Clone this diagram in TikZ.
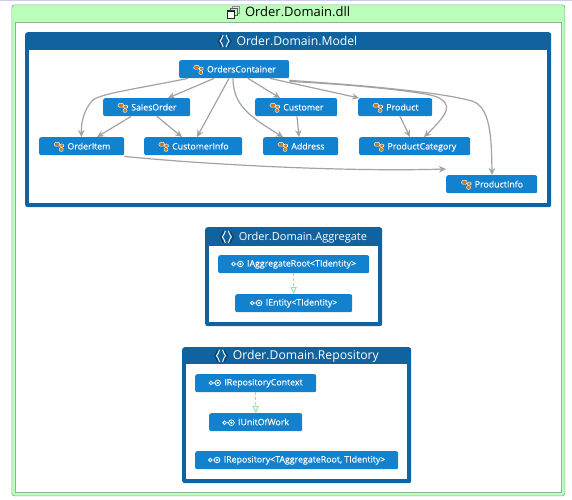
\documentclass[tikz,border=0pt]{standalone}
\usepackage{fontspec}
\setmainfont{Open Sans}
\newfontfamily\typefont[FakeBold=0.25]{Open Sans}
\usetikzlibrary{arrows.meta}
\definecolor{dllgreen}{HTML}{BBFFBB}
\definecolor{dlledge}{HTML}{8DB39B}
\definecolor{nsblue}{HTML}{10639F}
\definecolor{typeblue}{HTML}{1382CE}
\definecolor{linkgrey}{HTML}{A3A3A3}
\definecolor{iconorange}{HTML}{C47A1E}
\definecolor{implgreen}{HTML}{8FE6A0}
\tikzset{
  frame/.style={rounded corners=2.5pt, inner sep=0pt, anchor=north west},
  nsframe/.style={frame, fill=nsblue},
  nsbody/.style={inner sep=0pt, anchor=north west, fill=white},
  nstitle/.style={text=white, font=\fontsize{12.2}{14}\selectfont, inner sep=0pt},
  typebox/.style={fill=typeblue, text=white, rounded corners=2pt, inner sep=0pt, minimum height=18pt,
    anchor=north west, font=\typefont\fontsize{8.8}{11}\selectfont},
  dep/.style={draw=linkgrey, line width=1.2pt, -{Stealth[length=7pt,width=6.5pt]}},
  impl/.style={draw=implgreen, line width=0.9pt, densely dashed, -{Triangle[open,length=7pt,width=6.5pt,fill=white,line width=0.9pt,sep=0pt]}}
}
% small icons, set inline with the text
\newcommand{\clsicon}{\tikz[baseline=0.5pt,x=1pt,y=-1pt]{
  \fill[iconorange, draw=white, line width=0.4pt] (0,-5.5) -- (4,-9) -- (7.5,-5.5) -- (3.5,-2.5) -- cycle;
  \fill[iconorange, draw=white, line width=0.4pt] (6.5,-6) rectangle (10.5,-2.5);
  \fill[iconorange, draw=white, line width=0.4pt] (6,-2.5) rectangle (10,1.5);
}\hspace{3.5pt}}
\newcommand{\ifcicon}{\tikz[baseline=0.5pt,x=1pt,y=-1pt]{
  \draw[white, line width=0.8pt] (2,-3) circle (1.8pt) (3.8,-3) -- (6,-3) (8.8,-3) circle (2.8pt);
  \fill[white] (8.8,-3) circle (1.2pt);
}\hspace{3.5pt}}
\newcommand{\nsicon}{\tikz[baseline=0.5pt,x=1pt,y=-1pt]{
  \draw[black!45!nsblue, line width=0.8pt] (3,-10.5) .. controls (0.5,-8) and (3,-6) .. (0,-4.5) .. controls (3,-3) and (0.5,-1) .. (3,1.5);
  \draw[white, line width=0.9pt] (5,-10.5) .. controls (2.5,-8) and (5,-6) .. (2,-4.5) .. controls (5,-3) and (2.5,-1) .. (5,1.5);
  \draw[white, line width=0.9pt] (8,-10.5) .. controls (10.5,-8) and (8,-6) .. (11,-4.5) .. controls (8,-3) and (10.5,-1) .. (8,1.5);
  \draw[black!45!nsblue, line width=0.8pt] (10,-10.5) .. controls (12.5,-8) and (10,-6) .. (13,-4.5) .. controls (10,-3) and (12.5,-1) .. (10,1.5);
}\hspace{5pt}}
\newcommand{\dllicon}{\tikz[baseline=0.5pt,x=1pt,y=-1pt]{
  \draw[black!45, line width=1pt] (6,-10.5) rectangle (13,-3);
  \draw[black!65, fill=dllgreen, line width=1pt] (3.5,-8.5) rectangle (10.5,-1);
  \draw[black!85, fill=white, line width=1.3pt] (1,-6) rectangle (8,1.5);
}\hspace{5pt}}
\begin{document}
\begin{tikzpicture}[x=1pt,y=-1pt]
\useasboundingbox (0,0) rectangle (572,499);
\fill[white] (0,0) rectangle (572,499);
\fill[black!40!blue!20!white] (0,0) rectangle (572,0.8);
% dll frame
\node[frame, fill=dllgreen, draw=dlledge, line width=0.7pt, minimum width=553pt, minimum height=491pt] (dllFrame) at (11.5,4.5) {};
\node[nsbody, draw=dlledge, line width=0.7pt, minimum width=546pt, minimum height=470pt] (dllBody) at (15,22) {};
\node[inner sep=0pt, font=\fontsize{13}{15}\selectfont] (dllTitle) at (288.5,12.5) {\dllicon Order.Domain.dll};
% model namespace
\node[nsframe, minimum width=526pt, minimum height=175pt] (modelFrame) at (25,32) {};
\node[nsbody, minimum width=518pt, minimum height=153pt] (modelBody) at (29,50) {};
\node[nstitle] (modelTitle) at (287.5,41) {\nsicon Order.Domain.Model};
\node[typebox, minimum width=110pt] (ordersContainer) at (179,60) {\clsicon OrdersContainer};
\node[typebox, minimum width=87pt] (salesOrder) at (103,98) {\clsicon SalesOrder};
\node[typebox, minimum width=82pt] (customer) at (255,98) {\clsicon Customer};
\node[typebox, minimum width=74pt] (product) at (358,98) {\clsicon Product};
\node[typebox, minimum width=85pt] (orderItem) at (39,137) {\clsicon OrderItem};
\node[typebox, minimum width=98pt] (customerInfo) at (144,137) {\clsicon CustomerInfo};
\node[typebox, minimum width=75pt] (address) at (263,137) {\clsicon Address};
\node[typebox, minimum width=111pt] (productCategory) at (359,137) {\clsicon ProductCategory};
\node[typebox, minimum width=91pt] (productInfo) at (446,175) {\clsicon ProductInfo};
% associations
\draw[dep] ([xshift=9pt]ordersContainer.south west) .. controls (130,90) and (98,94) .. (92,101) .. controls (84,110) and (81,122) .. ([xshift=42.5pt]orderItem.north west);
\draw[dep] ([xshift=35pt]ordersContainer.south west) -- ([xshift=65pt]salesOrder.north west);
\draw[dep] ([xshift=50pt]ordersContainer.south west) -- ([xshift=53pt]customerInfo.north west);
\draw[dep] ([xshift=54pt]ordersContainer.south west) .. controls (233,105) and (250,117) .. ([xshift=20pt]address.north west);
\draw[dep] ([xshift=69pt]ordersContainer.south west) -- ([xshift=25pt]customer.north west);
\draw[dep] ([xshift=91pt]ordersContainer.south west) -- ([xshift=1pt]product.north west);
\draw[dep] ([yshift=-3pt]ordersContainer.south east) .. controls (360,85) and (425,92) .. (437,97) .. controls (452,104) and (450,112) .. ([xshift=65pt]productCategory.north west);
\draw[dep] ([yshift=-2pt]ordersContainer.south east) .. controls (360,85) and (440,92) .. (472,101) .. controls (490,107) and (491.5,135) .. ([xshift=46pt]productInfo.north west);
\draw[dep] ([xshift=28pt]salesOrder.south west) -- ([xshift=58pt]orderItem.north west);
\draw[dep] ([xshift=54pt]salesOrder.south west) -- ([xshift=38pt]customerInfo.north west);
\draw[dep] ([xshift=42pt]customer.south west) -- ([xshift=36pt]address.north west);
\draw[dep] ([xshift=42pt]product.south west) -- ([xshift=51pt]productCategory.north west);
\draw[dep] ([yshift=-1pt]orderItem.south east) .. controls (200,164) and (340,172) .. ([yshift=6pt]productInfo.north west);
% aggregate namespace
\node[nsframe, minimum width=177pt, minimum height=99pt] (aggregateFrame) at (205,227) {};
\node[nsbody, minimum width=169pt, minimum height=76pt] (aggregateBody) at (209,246) {};
\node[nstitle, font=\fontsize{11}{13}\selectfont] (aggregateTitle) at (293.5,237) {\nsicon Order.Domain.Aggregate};
\node[typebox, minimum width=151pt] (aggregateRoot) at (218,255) {\ifcicon IAggregateRoot<TIdentity>};
\node[typebox, minimum width=117pt] (entity) at (235,294) {\ifcicon IEntity<TIdentity>};
\draw[impl] (aggregateRoot.south) -- (aggregateRoot.south |- entity.north);
% repository namespace
\node[nsframe, minimum width=229pt, minimum height=136pt] (repositoryFrame) at (182,347) {};
\node[nsbody, minimum width=221pt, minimum height=115pt] (repositoryBody) at (186,364) {};
\node[nstitle] (repositoryTitle) at (296.5,356) {\nsicon Order.Domain.Repository};
\node[typebox, minimum width=121pt] (repositoryContext) at (195,374) {\ifcicon IRepositoryContext};
\node[typebox, minimum width=93pt] (unitOfWork) at (209,413) {\ifcicon IUnitOfWork};
\node[typebox, minimum width=203pt] (repository) at (195,451) {\ifcicon IRepository<TAggregateRoot, TIdentity>};
\draw[impl] (repositoryContext.south) -- (repositoryContext.south |- unitOfWork.north);
\end{tikzpicture}
\end{document}
